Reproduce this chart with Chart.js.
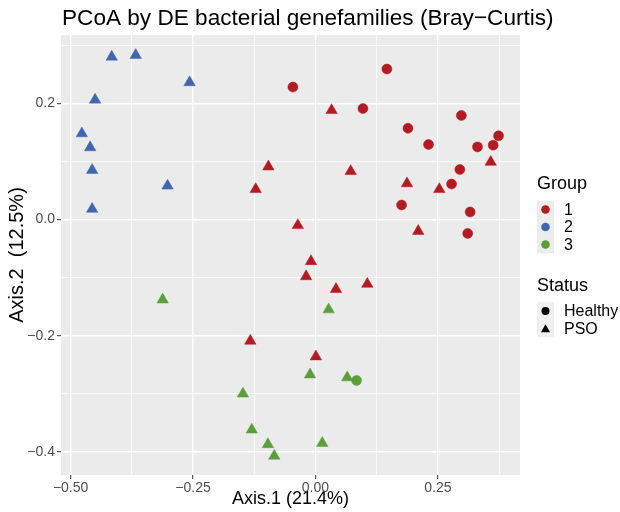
<!DOCTYPE html>
<html>
<head>
<meta charset="utf-8">
<script src="https://cdn.jsdelivr.net/npm/chart.js@4"></script>
<style>
  body { margin: 0; background: #fff; }
</style>
</head>
<body>
<canvas id="pcoaChart" width="620" height="512"></canvas>
<script>
// PCoA coordinates [Axis.1, Axis.2]
const group1Healthy = [
  [-0.046, 0.228], [0.146, 0.259], [0.097, 0.191], [0.298, 0.179], [0.189, 0.157],
  [0.231, 0.129], [0.374, 0.144], [0.363, 0.128], [0.331, 0.125], [0.295, 0.086],
  [0.278, 0.061], [0.176, 0.025], [0.316, 0.013], [0.311, -0.024]
];
const group1PSO = [
  [0.033, 0.188], [-0.096, 0.091], [-0.122, 0.052], [-0.036, -0.010], [-0.009, -0.072],
  [-0.019, -0.098], [0.042, -0.120], [0.106, -0.111], [-0.133, -0.209], [0.001, -0.236],
  [0.072, 0.083], [0.187, 0.062], [0.253, 0.052], [0.358, 0.099], [0.210, -0.020]
];
const group2PSO = [
  [-0.416, 0.280], [-0.367, 0.283], [-0.257, 0.236], [-0.450, 0.206], [-0.477, 0.148],
  [-0.460, 0.124], [-0.456, 0.085], [-0.302, 0.058], [-0.456, 0.018]
];
const group3PSO = [
  [-0.312, -0.138], [0.027, -0.155], [-0.011, -0.267], [-0.148, -0.300], [-0.130, -0.362],
  [-0.097, -0.387], [-0.084, -0.407], [0.014, -0.385], [0.065, -0.272]
];
const group3Healthy = [[0.084, -0.277]];

const groupNames = ['1', '2', '3'];
const groupColors = ['#b31b22', '#4166ae', '#5b9e3a'];
const statusNames = ['Healthy', 'PSO'];

const xTickValues = [-0.5, -0.25, 0, 0.25];
const xTickLabels = ['\u22120.50', '\u22120.25', '0.00', '0.25'];
const xMinorValues = [-0.375, -0.125, 0.125, 0.375];
const yTickValues = [-0.4, -0.2, 0, 0.2];
const yTickLabels = ['\u22120.4', '\u22120.2', '0.0', '0.2'];
const yMinorValues = [-0.3, -0.1, 0.1, 0.3];

const titleText = 'PCoA by DE bacterial genefamilies (Bray\u2212Curtis)';
const xTitle = 'Axis.1 (21.4%)';
const yTitle = 'Axis.2  (12.5%)';

const FONT = '"Liberation Sans", Arial, sans-serif';
Chart.defaults.font.family = FONT;

const toPoints = arr => arr.map(p => ({ x: p[0], y: p[1] }));

function pointSet(label, data, color, style) {
  return {
    label: label,
    data: toPoints(data),
    pointStyle: style,
    pointRadius: style === 'triangle' ? 6.6 : 5,
    backgroundColor: color,
    borderColor: color,
    borderWidth: 0.5
  };
}

function axisOptions(majors, labels, minors, min, max) {
  const all = majors.concat(minors).sort((a, b) => a - b);
  return {
    type: 'linear',
    min: min,
    max: max,
    afterBuildTicks: scale => { scale.ticks = all.map(v => ({ value: v })); },
    ticks: {
      autoSkip: false,
      maxRotation: 0,
      color: '#4d4d4d',
      font: { size: 14 },
      callback: value => {
        const i = majors.indexOf(value);
        return i >= 0 ? labels[i] : '';
      }
    },
    grid: {
      color: '#ffffff',
      lineWidth: c => majors.includes(c.tick.value) ? 1.4 : 0.7,
      tickColor: c => majors.includes(c.tick.value) ? '#333333' : 'rgba(0,0,0,0)',
      tickWidth: 1,
      tickLength: 4
    },
    border: { display: false }
  };
}

const xScale = axisOptions(xTickValues, xTickLabels, xMinorValues, -0.5196, 0.4178);
xScale.ticks.padding = 1;
xScale.title = { display: true, text: xTitle, color: '#000', font: { size: 18 }, padding: { top: 0, bottom: 2 } };
xScale.afterFit = scale => { scale.height = 37; };

const yScale = axisOptions(yTickValues, yTickLabels, yMinorValues, -0.4398, 0.3176);
yScale.ticks.padding = 2;
yScale.title = { display: true, text: yTitle, color: '#000', font: { size: 20 }, padding: { top: 5, bottom: 0 } };
yScale.afterFit = scale => { scale.width = 61; };

const panelBackground = {
  id: 'panelBackground',
  beforeDraw(chart) {
    const { ctx, chartArea: a } = chart;
    ctx.save();
    ctx.fillStyle = '#ebebeb';
    ctx.fillRect(a.left, a.top, a.right - a.left, a.bottom - a.top);
    ctx.restore();
  }
};

const plotTitle = {
  id: 'plotTitle',
  afterDraw(chart) {
    const ctx = chart.ctx;
    ctx.save();
    ctx.font = '22.6px ' + FONT;
    ctx.fillStyle = '#000';
    ctx.textBaseline = 'alphabetic';
    ctx.fillText(titleText, chart.chartArea.left + 1, 25);
    ctx.restore();
  }
};

// ggplot-style legend with two blocks (colour = Group, shape = Status)
const sideLegend = {
  id: 'sideLegend',
  afterDraw(chart) {
    const ctx = chart.ctx;
    const x0 = 537;
    const row = 17.5;
    ctx.save();

    ctx.fillStyle = '#000';
    ctx.font = '18px ' + FONT;
    ctx.textBaseline = 'alphabetic';
    ctx.fillText('Group', x0, 189);
    groupNames.forEach((name, i) => {
      const cy = 209.5 + i * row;
      ctx.fillStyle = '#ececec';
      ctx.fillRect(x0, cy - row / 2, 17, row);
      ctx.fillStyle = groupColors[i];
      Chart.helpers.drawPoint(ctx, { pointStyle: 'circle', radius: 4.3, borderWidth: 0 }, x0 + 8.5, cy);
      ctx.fillStyle = '#000';
      ctx.font = '16px ' + FONT;
      ctx.textBaseline = 'middle';
      ctx.fillText(name, x0 + 27, cy + 1);
    });

    ctx.font = '18px ' + FONT;
    ctx.textBaseline = 'alphabetic';
    ctx.fillText('Status', x0, 291);
    statusNames.forEach((name, i) => {
      const cy = 311 + i * row;
      ctx.fillStyle = '#f0f0f0';
      ctx.fillRect(x0, cy - row / 2, 17, row);
      ctx.fillStyle = '#000';
      Chart.helpers.drawPoint(ctx, {
        pointStyle: i === 0 ? 'circle' : 'triangle',
        radius: i === 0 ? 4 : 5.3,
        borderWidth: 0
      }, x0 + 8.5, i === 0 ? cy : cy + 1);
      ctx.font = '16px ' + FONT;
      ctx.textBaseline = 'middle';
      ctx.fillText(name, x0 + 27, cy + 1);
    });
    ctx.restore();
  }
};

const ctx = document.getElementById('pcoaChart').getContext('2d');
const pcoaChart = new Chart(ctx, {
  type: 'scatter',
  data: {
    datasets: [
      pointSet('3 PSO', group3PSO, groupColors[2], 'triangle'),
      pointSet('2 PSO', group2PSO, groupColors[1], 'triangle'),
      pointSet('1 PSO', group1PSO, groupColors[0], 'triangle'),
      pointSet('1 Healthy', group1Healthy, groupColors[0], 'circle'),
      pointSet('3 Healthy', group3Healthy, groupColors[2], 'circle')
    ]
  },
  options: {
    responsive: false,
    animation: false,
    devicePixelRatio: 1,
    layout: { padding: { top: 35, right: 100, bottom: 0, left: 0 } },
    plugins: {
      legend: { display: false },
      tooltip: { enabled: false },
      title: { display: false }
    },
    scales: { x: xScale, y: yScale }
  },
  plugins: [panelBackground, plotTitle, sideLegend]
});
</script>
</body>
</html>
